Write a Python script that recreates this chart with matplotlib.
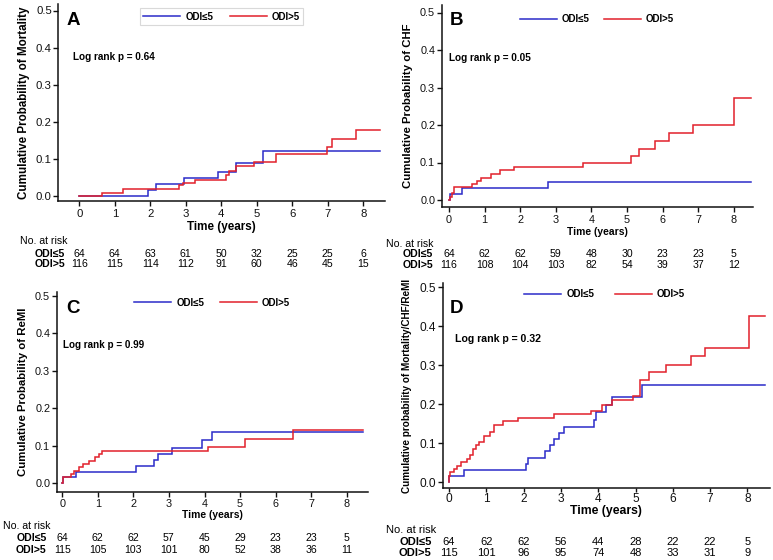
import matplotlib
matplotlib.use('Agg')
import matplotlib.pyplot as plt
from matplotlib.transforms import blended_transform_factory

FAM = ['Liberation Sans', 'DejaVu Sans']
plt.rcParams['font.family'] = FAM

W, H = 773, 560
fig = plt.figure(figsize=(W / 100, H / 100), dpi=100)

BLUE = '#2b2bc9'
RED = '#e2202b'

# ---------------- data ----------------
year_ticks = [0, 1, 2, 3, 4, 5, 6, 7, 8]
prob_ticks = [0.0, 0.1, 0.2, 0.3, 0.4, 0.5]
group_labels = ['ODI≤5', 'ODI>5']
end_time = 8.47

# Panel A: Mortality
A_lo_t = [0, 1.94, 2.15, 2.96, 3.92, 4.40, 5.18]
A_lo_v = [0, 0.016, 0.033, 0.048, 0.066, 0.090, 0.121]
A_hi_t = [0, 0.65, 1.24, 2.82, 2.93, 3.26, 4.12, 4.23, 4.40, 4.92, 5.54, 6.97, 7.13, 7.80]
A_hi_v = [0, 0.009, 0.018, 0.029, 0.036, 0.043, 0.056, 0.067, 0.081, 0.092, 0.114, 0.133, 0.153, 0.177]
A_risk_lo = [64, 64, 63, 61, 50, 32, 25, 25, 6]
A_risk_hi = [116, 115, 114, 112, 91, 60, 46, 45, 15]

# Panel B: CHF
B_lo_t = [0, 0.03, 0.37, 2.79]
B_lo_v = [0, 0.016, 0.031, 0.047]
B_hi_t = [0, 0.03, 0.08, 0.14, 0.64, 0.80, 0.91, 1.18, 1.43, 1.82, 3.77, 5.10, 5.33, 5.78, 6.18, 6.84, 8.00]
B_hi_v = [0, 0.009, 0.018, 0.035, 0.043, 0.052, 0.060, 0.070, 0.079, 0.088, 0.098, 0.117, 0.137, 0.158, 0.179, 0.200, 0.273]
B_risk_lo = [64, 62, 62, 59, 48, 30, 23, 23, 5]
B_risk_hi = [116, 108, 104, 103, 82, 54, 39, 37, 12]

# Panel C: ReMI
C_lo_t = [0, 0.01, 0.38, 2.07, 2.58, 2.70, 3.08, 3.92, 4.20]
C_lo_v = [0, 0.016, 0.031, 0.047, 0.062, 0.078, 0.094, 0.115, 0.136]
C_hi_t = [0, 0.01, 0.24, 0.33, 0.48, 0.57, 0.75, 0.92, 1.02, 1.11, 4.10, 5.14, 6.48]
C_hi_v = [0, 0.016, 0.025, 0.034, 0.043, 0.052, 0.060, 0.069, 0.078, 0.087, 0.098, 0.118, 0.142]
C_risk_lo = [64, 62, 62, 57, 45, 29, 23, 23, 5]
C_risk_hi = [115, 105, 103, 101, 80, 52, 38, 36, 11]

# Panel D: Mortality/CHF/ReMI
D_lo_t = [0, 0.01, 0.40, 2.06, 2.13, 2.57, 2.71, 2.82, 2.96, 3.09, 3.90, 3.93, 4.20, 4.38, 5.17]
D_lo_v = [0, 0.016, 0.032, 0.048, 0.063, 0.079, 0.095, 0.110, 0.126, 0.141, 0.160, 0.180, 0.198, 0.220, 0.249]
D_hi_t = [0, 0.01, 0.03, 0.13, 0.22, 0.31, 0.47, 0.56, 0.65, 0.72, 0.80, 0.95, 1.10, 1.20, 1.46,
          1.84, 2.82, 3.80, 4.11, 4.38, 4.92, 5.13, 5.37, 5.82, 6.49, 6.86, 8.05]
D_hi_v = [0, 0.017, 0.026, 0.034, 0.043, 0.051, 0.061, 0.070, 0.085, 0.096, 0.104, 0.120, 0.130,
          0.147, 0.157, 0.166, 0.175, 0.184, 0.198, 0.210, 0.222, 0.262, 0.282, 0.302, 0.324, 0.345, 0.427]
D_risk_lo = [64, 62, 62, 56, 44, 28, 22, 22, 5]
D_risk_hi = [115, 101, 96, 95, 74, 48, 33, 31, 9]

# ---------------- layout (pixel geometry) ----------------
panels = [
    dict(letter='A', ylabel='Cumulative Probability of Mortality', p='Log rank p = 0.64',
         lo=(A_lo_t, A_lo_v), hi=(A_hi_t, A_hi_v), risk=(A_risk_lo, A_risk_hi),
         left=58.3, right=385, top=4, bottom=201, x0=79.3, xs=35.5, y0=196, ys=371,
         letter_xy=(66.5, 25), p_xy=(73, 60.5), p_fs=7.2,
         leg_c=(221.5, 16.5), leg_frame=True, colsp=1.7,
         ylab_x=24.5, ylab_fs=8.4, tick_fs=8.2, xlab_top=221, xlab_fs=8.4,
         risk_title=(20, 244.5), risk_rows=(256.7, 266.7), risk_lab_x=65, risk_fs=7.6,
         xtick_len=3.8, xpad=2.2),
    dict(letter='B', ylabel='Cumulative Probability of CHF', p='Log rank p = 0.05',
         lo=(B_lo_t, B_lo_v), hi=(B_hi_t, B_hi_v), risk=(B_risk_lo, B_risk_hi),
         left=441.7, right=753, top=5, bottom=207, x0=449, xs=35.6, y0=200, ys=375,
         letter_xy=(450, 25), p_xy=(449, 60.8), p_fs=7.2,
         leg_c=(597, 19), leg_frame=False, colsp=1.5,
         ylab_x=408, ylab_fs=8.2, tick_fs=7.8, xlab_top=227, xlab_fs=7.4,
         risk_title=(386, 246.7), risk_rows=(257.2, 268.2), risk_lab_x=433.3, risk_fs=7.6,
         xtick_len=3.5, xpad=2.3),
    dict(letter='C', ylabel='Cumulative Probability of ReMI', p='Log rank p = 0.99',
         lo=(C_lo_t, C_lo_v), hi=(C_hi_t, C_hi_v), risk=(C_risk_lo, C_risk_hi),
         left=56.7, right=368, top=291.7, bottom=491.7, x0=62.3, xs=35.55, y0=483.3, ys=374.6,
         letter_xy=(66.5, 313.3), p_xy=(63, 348.3), p_fs=7.1,
         leg_c=(212, 302.7), leg_frame=False, colsp=1.6,
         ylab_x=22.7, ylab_fs=8.2, tick_fs=7.8, xlab_top=510, xlab_fs=7.4,
         risk_title=(3, 529.3), risk_rows=(541, 552.7), risk_lab_x=46.7, risk_fs=7.6,
         xtick_len=3.5, xpad=1.4),
    dict(letter='D', ylabel='Cumulative probability of Mortality/CHF/ReMI', p='Log rank p = 0.32',
         lo=(D_lo_t, D_lo_v), hi=(D_hi_t, D_hi_v), risk=(D_risk_lo, D_risk_hi),
         left=442.7, right=770, top=283, bottom=488.3, x0=449, xs=37.3, y0=482.3, ys=390,
         letter_xy=(450, 313.3), p_xy=(455, 341.7), p_fs=7.6,
         leg_c=(604.5, 294), leg_frame=False, colsp=2.1,
         ylab_x=407, ylab_fs=7.2, tick_fs=8.6, xlab_top=505, xlab_fs=8.8,
         risk_title=(386, 533.3), risk_rows=(545, 556), risk_lab_x=431.7, risk_fs=8.0,
         xtick_len=3.0, xpad=0.5),
]

for P in panels:
    L, R, T, B = P['left'], P['right'], P['top'], P['bottom']
    ax = fig.add_axes([L / W, 1 - B / H, (R - L) / W, (B - T) / H])
    ax.set_xlim((L - P['x0']) / P['xs'], (R - P['x0']) / P['xs'])
    ax.set_ylim((P['y0'] - B) / P['ys'], (P['y0'] - T) / P['ys'])
    for s in ['top', 'right']:
        ax.spines[s].set_visible(False)
    for s in ['left', 'bottom']:
        ax.spines[s].set_linewidth(1.1)
        ax.spines[s].set_color('#111111')
    ax.set_xticks(year_ticks)
    ax.set_xticklabels([str(v) for v in year_ticks])
    ax.set_yticks(prob_ticks)
    ax.set_yticklabels(['%.1f' % v for v in prob_ticks])
    ax.tick_params(axis='x', direction='out', length=P['xtick_len'], width=1.0, pad=P['xpad'],
                   labelsize=P['tick_fs'], colors='#111111')
    ax.tick_params(axis='y', direction='out', length=3.5, width=1.0, pad=1.2,
                   labelsize=P['tick_fs'], colors='#111111')

    handles = []
    for key, col in (('lo', BLUE), ('hi', RED)):
        t, v = P[key]
        tt = list(t) + [end_time]
        vv = list(v) + [v[-1]]
        ln, = ax.step(tt, vv, where='post', color=col, lw=1.1, solid_joinstyle='miter')
        handles.append(ln)

    leg = ax.legend(handles, group_labels, loc='center',
                    bbox_to_anchor=(P['leg_c'][0] / W, 1 - P['leg_c'][1] / H),
                    bbox_transform=fig.transFigure, ncol=2, frameon=P['leg_frame'],
                    fancybox=False, borderpad=0.35, borderaxespad=0,
                    handlelength=3.8, handletextpad=0.5, columnspacing=P['colsp'],
                    prop={'weight': 'bold', 'size': 7.0, 'family': FAM})
    if P['leg_frame']:
        leg.get_frame().set_edgecolor('#d0d0d0')
        leg.get_frame().set_linewidth(0.8)

    # axis labels
    ax.set_ylabel(P['ylabel'], fontsize=P['ylab_fs'], fontweight='bold')
    ax.yaxis.set_label_coords((P['ylab_x'] - L) / (R - L), 0.5)
    ax.yaxis.label.set_va('center')
    ax.set_xlabel('Time (years)', fontsize=P['xlab_fs'], fontweight='bold')
    ax.xaxis.set_label_coords(0.5, (B - P['xlab_top']) / (B - T))
    ax.xaxis.label.set_va('top')

    # panel letter and p value
    fig.text(P['letter_xy'][0] / W, 1 - P['letter_xy'][1] / H, P['letter'],
             fontsize=13.5, fontweight='bold', ha='left', va='baseline')
    fig.text(P['p_xy'][0] / W, 1 - P['p_xy'][1] / H, P['p'],
             fontsize=P['p_fs'], fontweight='bold', ha='left', va='baseline')

    # numbers at risk
    fig.text(P['risk_title'][0] / W, 1 - P['risk_title'][1] / H, 'No. at risk',
             fontsize=P['risk_fs'], ha='left', va='baseline')
    trans = blended_transform_factory(ax.transData, fig.transFigure)
    for row_y, lab, counts in zip(P['risk_rows'], group_labels, P['risk']):
        fig.text(P['risk_lab_x'] / W, 1 - row_y / H, lab, fontsize=P['risk_fs'],
                 fontweight='bold', ha='right', va='baseline')
        for t, n in zip(year_ticks, counts):
            ax.text(t, 1 - row_y / H, str(n), transform=trans, fontsize=P['risk_fs'],
                    ha='center', va='baseline', clip_on=False)

fig.savefig('out.png', dpi=100)
